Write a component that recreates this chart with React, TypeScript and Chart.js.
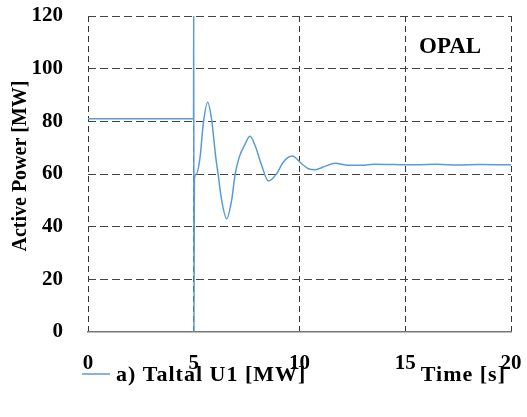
import React, { useEffect, useRef } from 'react';
import { Chart, registerables } from 'chart.js';

Chart.register(...registerables);

// Time axis values (s)
const timeS = [
  0, 4.99, 5.0, 5.01, 5.03, 5.12, 5.3, 5.45, 5.66, 5.85, 6.04, 6.16, 6.32, 6.56,
  6.79, 6.95, 7.15, 7.42, 7.66, 7.9, 8.21, 8.53, 8.92, 9.23, 9.66, 10.1, 10.42, 10.73,
  11.2, 11.68, 12.3, 12.94, 13.5, 14.5, 15.5, 16.5, 17.5, 18.5, 20,
];
// Active power of Taltal U1 (MW)
const taltalMW = [
  81, 81, 125, 0, 58, 60, 66.4, 79, 87.2, 80.3, 66.4, 59.5, 50, 43,
  50, 59.5, 66.4, 71.2, 74.3, 70.8, 63.3, 57.3, 60.1, 64.5, 66.8, 63.9, 62, 61.6,
  62.9, 64.1, 63.3, 63.3, 63.7, 63.6, 63.5, 63.7, 63.4, 63.6, 63.5,
];
const xTicks = [0, 5, 10, 15, 20];
const yTicks = [0, 20, 40, 60, 80, 100, 120];

const seriesLabel = 'a) Taltal U1 [MW]';
const yTitle = 'Active Power [MW]';
const xTitle = 'Time [s]';
const badge = 'OPAL';

const LINE_COLOR = '#5b9bd5';
const FONT = '"Liberation Serif", "Times New Roman", serif';

const textPlugin = {
  id: 'extraTexts',
  afterDraw(chart: any) {
    const ctx = chart.ctx as CanvasRenderingContext2D;
    ctx.save();
    ctx.fillStyle = '#000';
    // y-axis title
    ctx.save();
    ctx.translate(21, 166);
    ctx.rotate(-Math.PI / 2);
    ctx.font = `bold 20px ${FONT}`;
    ctx.textAlign = 'center';
    ctx.textBaseline = 'middle';
    ctx.fillText(yTitle, 0, 0);
    ctx.restore();

    // legend
    ctx.strokeStyle = LINE_COLOR;
    ctx.lineWidth = 1.5;
    ctx.beginPath();
    ctx.moveTo(82, 374);
    ctx.lineTo(110, 374);
    ctx.stroke();
    ctx.font = `bold 22px ${FONT}`;
    (ctx as any).letterSpacing = '1px';
    ctx.textAlign = 'left';
    ctx.textBaseline = 'alphabetic';
    ctx.fillText(seriesLabel, 116, 381);

    // x title
    ctx.textAlign = 'right';
    ctx.fillText(xTitle, 506, 381);
    (ctx as any).letterSpacing = '0px';

    // badge
    ctx.font = `bold 23px ${FONT}`;
    ctx.textAlign = 'left';
    ctx.fillText(badge, 419, 53);
    ctx.restore();
  },
};

export default function App() {
  const ref = useRef<HTMLCanvasElement | null>(null);

  useEffect(() => {
    if (!ref.current) return;
    const chart = new Chart(ref.current, {
      type: 'line',
      data: {
        datasets: [
          {
            label: seriesLabel,
            data: timeS.map((t, i) => ({ x: t, y: taltalMW[i] })),
            borderColor: LINE_COLOR,
            borderWidth: 1.5,
            pointRadius: 0,
            fill: false,
            cubicInterpolationMode: 'monotone',
          },
        ],
      },
      options: {
        responsive: false,
        animation: false,
        layout: { padding: { left: 0, right: 16, top: 16, bottom: 0 } },
        plugins: {
          legend: { display: false },
          tooltip: { enabled: false },
        },
        scales: {
          x: {
            type: 'linear',
            min: 0,
            max: 20,
            afterFit: (s: any) => {
              s.height = 85;
              s.paddingLeft = 0;
              s.paddingRight = 0;
              s.paddingTop = 0;
              s.paddingBottom = 0;
            },
            afterBuildTicks: (s: any) => {
              s.ticks = xTicks.map((v) => ({ value: v }));
            },
            ticks: {
              color: '#000',
              font: { family: FONT, size: 21, weight: 'bold' },
              padding: 19,
              maxRotation: 0,
            },
            grid: {
              color: '#333',
              lineWidth: 1,
              drawTicks: false,
            },
            border: { display: true, color: '#777', width: 1.5, dash: [6, 4] },
          },
          y: {
            type: 'linear',
            min: 0,
            max: 120,
            afterFit: (s: any) => {
              s.width = 88;
              s.paddingLeft = 0;
              s.paddingRight = 0;
              s.paddingTop = 0;
              s.paddingBottom = 0;
            },
            afterBuildTicks: (s: any) => {
              s.ticks = yTicks.map((v) => ({ value: v }));
            },
            ticks: {
              color: '#000',
              font: { family: FONT, size: 21, weight: 'bold' },
              padding: 25,
            },
            grid: {
              color: (c: any) => (c.tick && c.tick.value === 0 ? 'rgba(0,0,0,0)' : '#444'),
              lineWidth: 1,
              drawTicks: false,
            },
            border: { display: false, dash: [8, 4] },
          },
        },
      },
      plugins: [textPlugin],
    } as any);
    return () => chart.destroy();
  }, []);

  return (
    <div style={{ position: 'absolute', left: 0, top: 0, width: 527, height: 417, background: '#fff' }}>
      <canvas ref={ref} width={527} height={417} />
    </div>
  );
}
